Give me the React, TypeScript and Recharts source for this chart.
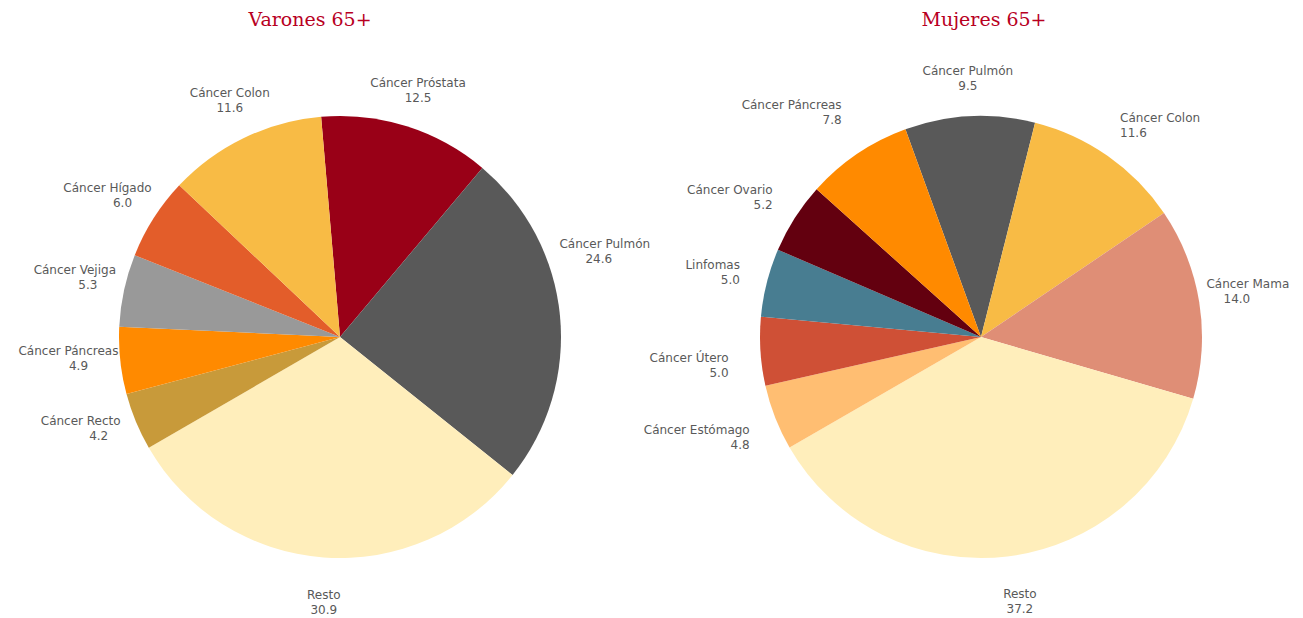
import React from "react";
import { PieChart, Pie, Cell } from "recharts";

const menCategories = ["Cáncer Próstata", "Cáncer Pulmón", "Resto", "Cáncer Recto", "Cáncer Páncreas", "Cáncer Vejiga", "Cáncer Hígado", "Cáncer Colon"];
const menValues = [12.5, 24.6, 30.9, 4.2, 4.9, 5.3, 6.0, 11.6];
const menColors = ["#990017", "#595959", "#FFEEBB", "#C89A3A", "#FF8A00", "#999999", "#E35D2A", "#F8BB45"];

const womenCategories = ["Cáncer Pulmón", "Cáncer Colon", "Cáncer Mama", "Resto", "Cáncer Estómago", "Cáncer Útero", "Linfomas", "Cáncer Ovario", "Cáncer Páncreas"];
const womenValues = [9.5, 11.6, 14.0, 37.2, 4.8, 5.0, 5.0, 5.2, 7.8];
const womenColors = ["#595959", "#F8BB45", "#DF8E76", "#FFEEBB", "#FFBE72", "#CF5036", "#487D91", "#63000F", "#FF8A00"];

const menData = menCategories.map((name, i) => ({ name, value: menValues[i] }));
const womenData = womenCategories.map((name, i) => ({ name, value: womenValues[i] }));

// label nudges: [block dx, block dy, extra name dx]
const menLabelNudge: Record<string, [number, number, number]> = {
  "Cáncer Pulmón": [2, -60, 6],
  "Cáncer Hígado": [0, -2, -15],
  "Cáncer Vejiga": [0, -4, -13],
  "Cáncer Páncreas": [-5, -6, -10],
  "Cáncer Recto": [-3, -7, -18],
  "Resto": [3, 9, 0],
  "Cáncer Colon": [2, -4, 0],
};
const womenLabelNudge: Record<string, [number, number, number]> = {
  "Cáncer Páncreas": [-4, -10, 0],
  "Cáncer Útero": [-4, 12, 0],
  "Cáncer Estómago": [0, 7, 0],
  "Resto": [8, 9, 0],
  "Cáncer Mama": [1, -5, 11],
};

const RAD = Math.PI / 180;
const FONT = "'DejaVu Sans', sans-serif";

function makeLabel(mode: "center" | "side", nudges: Record<string, [number, number, number]>) {
  return (props: any) => {
    const { cx, cy, midAngle, outerRadius, name, value } = props;
    const r = outerRadius + 37;
    const x = cx + r * Math.cos(-midAngle * RAD);
    const y = cy + r * Math.sin(-midAngle * RAD);
    let anchor: "middle" | "start" | "end" = "middle";
    let tx = x;
    if (mode === "side") {
      const dx = x - cx;
      const a = ((midAngle % 360) + 360) % 360;
      const nearHorizontalRight = dx > 0 && (a < 30 || a > 330);
      if (dx < -60) {
        anchor = "end";
        tx = x + 9;
      } else if (dx > 60 && !nearHorizontalRight) {
        anchor = "start";
        tx = x - 9;
      }
    }
    const n = nudges[name] || [0, 0, 0];
    const bx = tx + n[0];
    const by = y + n[1];
    return (
      <text x={bx} y={by} textAnchor={anchor} fill="#595959" fontFamily={FONT} fontSize={12}>
        <tspan x={bx + n[2]} dy={-4}>{name}</tspan>
        <tspan x={bx} dy={15}>{Number(value).toFixed(1)}</tspan>
      </text>
    );
  };
}

const titleStyle: React.CSSProperties = {
  position: "absolute",
  top: 8,
  fontFamily: "'DejaVu Serif', serif",
  fontSize: 19,
  lineHeight: "22px",
  color: "#B8001F",
  transform: "translateX(-50%)",
  whiteSpace: "nowrap",
};

export default function App() {
  return (
    <div style={{ position: "absolute", left: 0, top: 0, width: 1303, height: 618, background: "#fff" }}>
      <PieChart width={1303} height={618} margin={{ top: 0, right: 0, bottom: 0, left: 0 }}>
        <Pie
          data={menData}
          dataKey="value"
          nameKey="name"
          cx={340}
          cy={337}
          outerRadius={221}
          startAngle={94.9}
          endAngle={-265.1}
          stroke="none"
          isAnimationActive={false}
          labelLine={false}
          label={makeLabel("center", menLabelNudge)}
        >
          {menData.map((d, i) => (
            <Cell key={d.name} fill={menColors[i]} />
          ))}
        </Pie>
        <Pie
          data={womenData}
          dataKey="value"
          nameKey="name"
          cx={981}
          cy={337}
          outerRadius={221}
          startAngle={110}
          endAngle={-250}
          stroke="none"
          isAnimationActive={false}
          labelLine={false}
          label={makeLabel("side", womenLabelNudge)}
        >
          {womenData.map((d, i) => (
            <Cell key={d.name} fill={womenColors[i]} />
          ))}
        </Pie>
      </PieChart>
      <div style={{ ...titleStyle, left: 310 }}>Varones 65+</div>
      <div style={{ ...titleStyle, left: 984 }}>Mujeres 65+</div>
    </div>
  );
}
